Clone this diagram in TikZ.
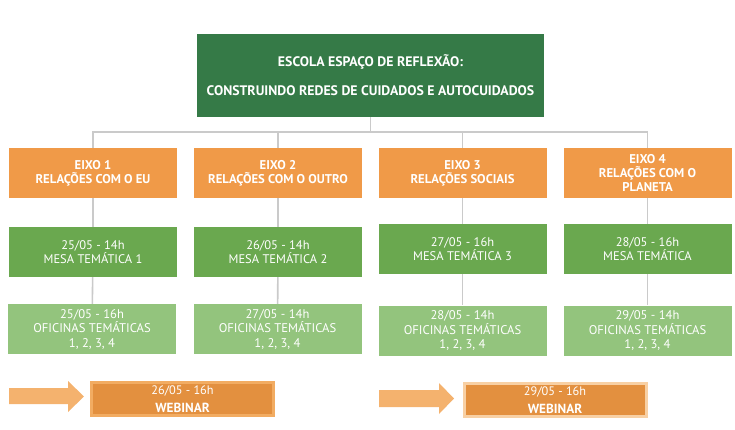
\documentclass[tikz,border=0pt]{standalone}
\usepackage{fontspec}
\setmainfont{PT Sans}
\usepackage{xcolor}
\usepackage{tikz}

\definecolor{verdeescuro}{HTML}{357A47}
\definecolor{laranja}{HTML}{F09A48}
\definecolor{verdemesa}{HTML}{6AA84F}
\definecolor{verdeclaro}{HTML}{93C47D}
\definecolor{cinzalinha}{HTML}{CACACA}
\definecolor{laranjaweb}{HTML}{E3903F}
\definecolor{bordaweb}{HTML}{F2AC62}
\definecolor{bordaweb2}{HTML}{F8D0A4}
\definecolor{setacor}{HTML}{F4B26E}

\begin{document}
\begin{tikzpicture}[x=1pt,y=-1pt,
	caixa/.style={minimum width=168, minimum height=50, inner sep=0, align=center, text=white},
	eixo/.style={caixa, fill=laranja, font=\fontsize{12.7}{14}\selectfont\bfseries},
	mesa/.style={caixa, fill=verdemesa, font=\fontsize{12.5}{13.5}\selectfont},
	oficina/.style={caixa, fill=verdeclaro, font=\fontsize{12.6}{14.5}\selectfont},
	webinar/.style={minimum width=182, minimum height=33, inner sep=0, align=center, text=white,
		fill=laranjaweb, line width=3, font=\fontsize{12.3}{18}\selectfont},
	linha/.style={cinzalinha, line width=1.6}]
	\useasboundingbox (0,0) rectangle (735,430);

	\node[minimum width=347, minimum height=83, inner sep=0, align=center, text=white,
		fill=verdeescuro, font=\fontsize{13.8}{29}\selectfont\bfseries] (topo) at (370.5,75.5)
		{ESCOLA ESPAÇO DE REFLEXÃO:\\CONSTRUINDO REDES DE CUIDADOS E AUTOCUIDADOS};

	\node[eixo] (eixo1) at (93,173) {EIXO 1\\RELAÇÕES COM O EU};
	\node[eixo] (eixo2) at (278,173) {EIXO 2\\RELAÇÕES COM O OUTRO};
	\node[eixo] (eixo3) at (462.5,173) {EIXO 3\\RELAÇÕES SOCIAIS};
	\node[eixo] (eixo4) at (647.5,173) {EIXO 4\\RELAÇÕES COM O\\PLANETA};

	\node[mesa] (mesa1) at (93,252) {25/05 - 14h\\MESA TEMÁTICA 1};
	\node[mesa] (mesa2) at (278,252) {26/05 - 14h\\MESA TEMÁTICA 2};
	\node[mesa] (mesa3) at (462.5,249) {27/05 - 16h\\MESA TEMÁTICA 3};
	\node[mesa] (mesa4) at (647.5,249) {28/05 - 16h\\MESA TEMÁTICA};

	\node[oficina] (oficina1) at (92,329) {25/05 - 16h\\OFICINAS TEMÁTICAS\\1, 2, 3, 4};
	\node[oficina] (oficina2) at (277.5,329) {27/05 - 14h\\OFICINAS TEMÁTICAS\\1, 2, 3, 4};
	\node[oficina] (oficina3) at (462.5,330.5) {28/05 - 14h\\OFICINAS TEMÁTICAS\\1, 2, 3, 4};
	\node[oficina] (oficina4) at (647.5,330.5) {29/05 - 14h\\OFICINAS TEMÁTICAS\\1, 2, 3, 4};

	% ligacoes
	\coordinate (barra) at (370.5,132);
	\draw[linha] (topo.south) -- (barra);
	\draw[linha] (eixo1.north) |- (barra) -| (eixo4.north);
	\draw[linha] (eixo2.north) -- (eixo2.north |- barra);
	\draw[linha] (eixo3.north) -- (eixo3.north |- barra);
	\foreach \i in {1,2,3,4} {
		\draw[linha] (eixo\i) -- (mesa\i);
		\draw[linha] (mesa\i) -- (oficina\i);
	}

	% webinars
	\node[webinar, draw=bordaweb] (web1) at (182.5,399) {26/05 - 16h\\\fontsize{13.2}{18}\selectfont\textbf{WEBINAR}};
	\node[webinar, draw=bordaweb2] (web2) at (555,400) {29/05 - 16h\\\fontsize{13.2}{18}\selectfont\textbf{WEBINAR}};
	\fill[setacor] (9,388) -- (68,388) -- (68,381) -- (84,396.5) -- (68,412) -- (68,404) -- (9,404) -- cycle;
	\fill[setacor] (379,390) -- (439,390) -- (439,383) -- (454,398.5) -- (439,414) -- (439,407) -- (379,407) -- cycle;
\end{tikzpicture}
\end{document}
